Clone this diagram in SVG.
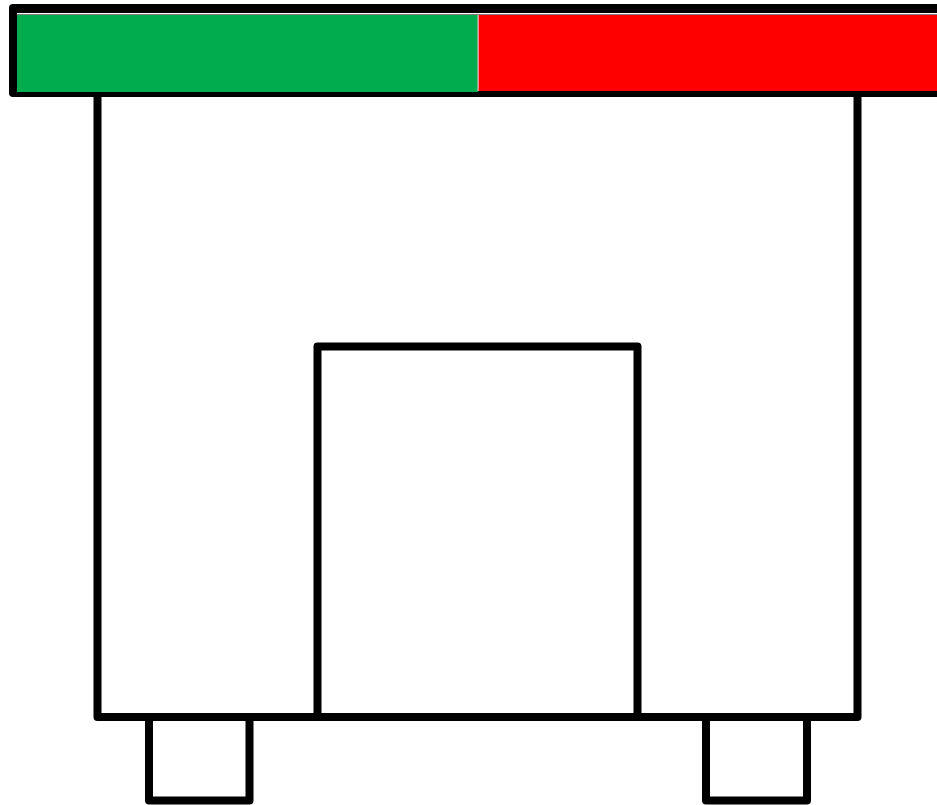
<svg xmlns="http://www.w3.org/2000/svg" width="937" height="805" viewBox="0 0 937 805">
<style>
.ln{fill:none;stroke:#000;stroke-width:8;stroke-linejoin:round;stroke-linecap:round}
</style>
<rect width="937" height="805" fill="#fff"/>
<g id="body">
<path class="ln" d="M97.5,95 V717 H857.5 V95"/>
</g>
<g id="door">
<path class="ln" d="M317.5,717 V346.5 H637.5 V717"/>
</g>
<g id="foot-left">
<path class="ln" d="M149,717 V800.5 H249.5 V717"/>
</g>
<g id="foot-right">
<path class="ln" d="M706,717 V800.5 H807 V717"/>
</g>
<g id="roof">
<rect x="9" y="4" width="940" height="93" rx="4" fill="#000"/>
<rect x="17" y="13" width="930" height="1.5" fill="#fff"/>
<rect x="17" y="15" width="461" height="77" fill="#00ac4e"/>
<rect x="478" y="15" width="470" height="76" fill="#ff0000"/>
<rect x="477.5" y="15" width="1.2" height="76" fill="#e8c8c8"/>
</g>
</svg>
